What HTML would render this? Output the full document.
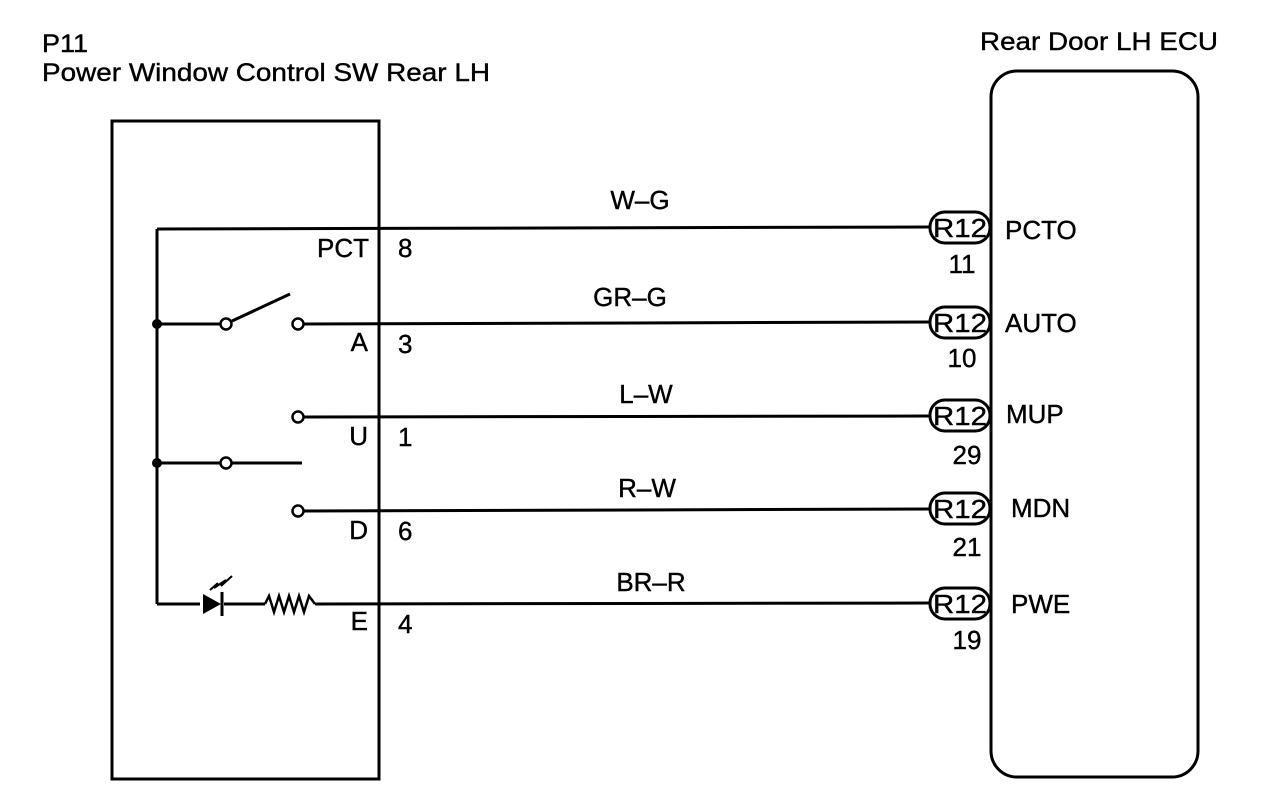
<!DOCTYPE html>
<html><head><style>body{margin:0;background:#fff}svg{display:block}text{font-family:"Liberation Sans",sans-serif;fill:#000;stroke:#000;stroke-width:0.4}</style></head>
<body>
<svg width="1280" height="802" viewBox="0 0 1280 802" xmlns="http://www.w3.org/2000/svg">
<g font-size="25">
<text x="42" y="52" textLength="46" lengthAdjust="spacingAndGlyphs">P11</text>
<text x="42" y="81" textLength="448" lengthAdjust="spacingAndGlyphs">Power Window Control SW Rear LH</text>
<text x="980" y="50" textLength="238" lengthAdjust="spacingAndGlyphs">Rear Door LH ECU</text>
</g>
<g fill="none" stroke="#000" stroke-width="3">
<rect x="112" y="121" width="267" height="658"/>
<rect x="991" y="71" width="207" height="706" rx="26"/>
<line x1="157" y1="229" x2="931" y2="227"/>
<line x1="304" y1="324" x2="931" y2="322"/>
<line x1="304" y1="417" x2="931" y2="416"/>
<line x1="304" y1="511" x2="931" y2="509"/>
<line x1="157" y1="604" x2="200" y2="604"/>
<line x1="224" y1="604" x2="265" y2="604"/>
<line x1="315" y1="604" x2="931" y2="603"/>
<polyline points="265,604 269,596 274,612 279,596 284,612 289,596 294,612 299,596 304,612 309,596 315,604" stroke-width="2.5"/>
<line x1="157" y1="229" x2="157" y2="604"/>
<line x1="157" y1="324" x2="220" y2="324"/>
<line x1="157" y1="463" x2="220" y2="463"/>
<line x1="232" y1="321" x2="290" y2="294"/>
<line x1="232" y1="463" x2="302" y2="463"/>
<circle cx="226" cy="324" r="5.5" stroke-width="2.5"/>
<circle cx="226" cy="463" r="5.5" stroke-width="2.5"/>
<circle cx="298" cy="324" r="5.5" stroke-width="2.5"/>
<circle cx="298" cy="417" r="5.5" stroke-width="2.5"/>
<circle cx="298" cy="511" r="5.5" stroke-width="2.5"/>
<line x1="222" y1="592" x2="222" y2="616"/>
<path d="M210 590 L218 583 M214 588 L226 580 L221 586 L232 576" stroke-width="2"/>
<rect x="930" y="212" width="60" height="31" rx="15"/>
<rect x="930" y="307" width="60" height="31" rx="15"/>
<rect x="930" y="400" width="60" height="31" rx="15"/>
<rect x="930" y="493" width="60" height="31" rx="15"/>
<rect x="930" y="588" width="60" height="31" rx="15"/>
</g>
<circle cx="157" cy="324" r="5"/>
<circle cx="157" cy="463" r="5"/>
<polygon points="203,594 203,614 221,604"/>
<g font-size="26">
<text x="369" y="257" text-anchor="end">PCT</text><text x="398" y="257">8</text>
<text x="368" y="351" text-anchor="end">A</text><text x="398" y="353">3</text>
<text x="368" y="445" text-anchor="end">U</text><text x="398" y="446">1</text>
<text x="368" y="539" text-anchor="end">D</text><text x="398" y="540">6</text>
<text x="368" y="630" text-anchor="end">E</text><text x="398" y="633">4</text>
<g text-anchor="middle">
<text x="640" y="209">W–G</text>
<text x="630" y="306">GR–G</text>
<text x="646" y="403">L–W</text>
<text x="647" y="497">R–W</text>
<text x="651" y="591">BR–R</text>
<text x="960" y="237" textLength="54" lengthAdjust="spacingAndGlyphs">R12</text>
<text x="960" y="332" textLength="54" lengthAdjust="spacingAndGlyphs">R12</text>
<text x="960" y="425" textLength="54" lengthAdjust="spacingAndGlyphs">R12</text>
<text x="960" y="518" textLength="54" lengthAdjust="spacingAndGlyphs">R12</text>
<text x="960" y="613" textLength="54" lengthAdjust="spacingAndGlyphs">R12</text>
<text x="962" y="273">11</text>
<text x="962" y="367">10</text>
<text x="967" y="464">29</text>
<text x="967" y="556">21</text>
<text x="967" y="649">19</text>
</g>
<text x="1005" y="239">PCTO</text>
<text x="1005" y="332">AUTO</text>
<text x="1006" y="423">MUP</text>
<text x="1011" y="517">MDN</text>
<text x="1011" y="613">PWE</text>
</g>
</svg>
</body></html>
